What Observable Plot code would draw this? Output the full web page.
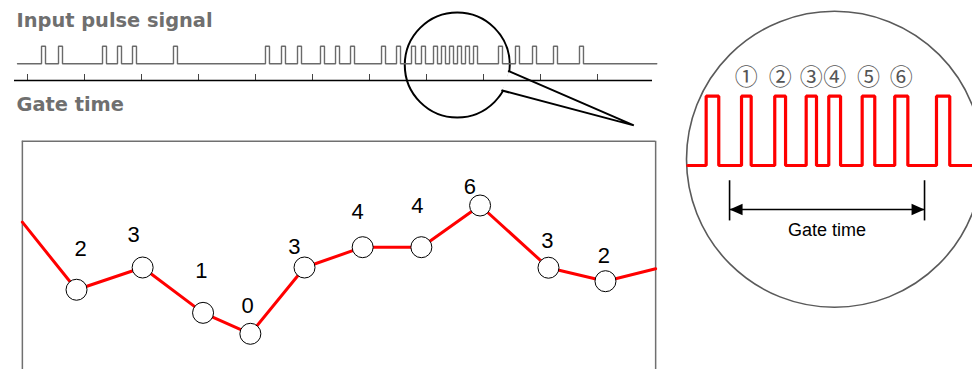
<!DOCTYPE html>
<html><head><meta charset="utf-8">
<script src="https://cdn.jsdelivr.net/npm/d3@7"></script>
<script src="https://cdn.jsdelivr.net/npm/@observablehq/plot@0.6"></script>
<style>
body{margin:0;background:#fff;}
#chart{position:relative;width:972px;height:369px;overflow:hidden;background:#fff;}
#chart svg{position:absolute;left:0;top:0;background:transparent;}
</style></head><body><div id="chart"></div>
<script>
// ---- time is measured in gate-time units (gate k spans k..k+1) ----
const gateTicks = [0, 1, 2, 3, 4, 5, 6, 7, 8, 9, 10];

// input pulse signal: rising-edge times and pulse width
const pulseRise = [0.246, 0.544, 1.316, 1.579, 1.842, 2.561, 4.175, 4.456, 4.737,
  5.140, 5.404, 5.667, 6.211, 6.474, 6.737, 6.912, 7.123, 7.263, 7.404, 7.544,
  7.684, 7.825, 8.263, 8.561, 8.860, 9.228, 9.684];
const pulseWidth = 0.07;
const signalSpan = [-0.175, 11.04];

// counted pulses per gate
const gateTime = [0.86, 2.02, 3.08, 3.91, 4.86, 5.88, 6.91, 7.94, 9.14, 10.14];
const gateLevel = [2.06, 3.10, 0.98, 0, 3.10, 4.05, 4.05, 6.0, 3.09, 2.46];
const gateCount = [2, 3, 1, 0, 3, 4, 4, 6, 3, 2];
const labelTime = [0.93, 1.86, 3.05, 3.86, 4.68, 5.79, 6.84, 7.76, 9.12, 10.11];
const labelLevel = [3.99, 4.60, 2.96, 1.29, 4.05, 5.69, 6.00, 6.86, 4.36, 3.66];
const edgeTime = [-0.09, 11.02];
const edgeLevel = [5.22, 3.04];
const frameTop = 9.0;
const frameBottom = -3;

// magnifier (small lens on the pulse train, callout pointer)
const lensCenter = {t: 7.54, level: -0.07};
const pointerTime = [8.444, 10.637, 8.328];
const pointerLevel = [-0.42, -3.5, -1.52];

// magnified view
const zoomRise = [6.756, 6.972, 7.175, 7.367, 7.505, 7.709, 7.908, 8.163];
const zoomFall = [6.833, 7.031, 7.241, 7.430, 7.577, 7.786, 7.988, 8.244];
const zoomSpan = [6.644, 8.45];
const zoomCenter = {t: 7.54, level: 0.09};
const circledLabels = ["①", "②", "③", "④", "⑤", "⑥"];
const gateArrow = [6.899, 8.090];
const gateArrowLevel = -0.635;
const gateBar = [-0.22, -0.80];
const gateLabelLevel = -0.94;

// ---------------------------------------------------------------
const W = 972, H = 369;
const baseStyle = {background: "transparent", fontFamily: "'Liberation Sans', Arial, sans-serif", overflow: "visible"};
const xMain = {domain: [0, 10], range: [27, 597], axis: null};

function train(rises, falls, span) {
  const pts = [{t: span[0], v: 0}];
  rises.forEach((r, i) => { pts.push({t: r, v: 0}, {t: r, v: 1}, {t: falls[i], v: 1}, {t: falls[i], v: 0}); });
  pts.push({t: span[1], v: 0});
  return pts;
}

const chart = document.getElementById("chart");

// Layer 1: count chart
const points = gateTime.map((t, i) => ({t, level: gateLevel[i], count: gateCount[i], lt: labelTime[i], ll: labelLevel[i]}));
const linePts = [{t: edgeTime[0], level: edgeLevel[0]}, ...points, {t: edgeTime[1], level: edgeLevel[1]}];
chart.append(Plot.plot({
  width: W, height: H, margin: 0, style: baseStyle,
  x: xMain, y: {domain: [0, 6], range: [333.3, 205], axis: null},
  marks: [
    Plot.ruleX(edgeTime, {x: d => d, y1: frameTop, y2: frameBottom, stroke: "#707070", strokeWidth: 1.5}),
    Plot.ruleY([frameTop], {y: d => d, x1: edgeTime[0], x2: edgeTime[1], stroke: "#707070", strokeWidth: 1.5}),
    Plot.line(linePts, {x: "t", y: "level", stroke: "#ff0000", strokeWidth: 3, strokeLinejoin: "round"}),
    Plot.dot(points, {x: "t", y: "level", r: 10.5, fill: "white", stroke: "black", strokeWidth: 1}),
    Plot.text(points, {x: "lt", y: "ll", text: d => String(d.count), fontSize: 22, fill: "black", lineAnchor: "middle"})
  ]
}));

// Layer 2: input pulse signal, titles, lens + pointer
const mainTrain = train(pulseRise, pulseRise.map(r => r + pulseWidth), signalSpan);
const pointer = pointerTime.map((t, i) => ({t, level: pointerLevel[i]}));
chart.append(Plot.plot({
  width: W, height: H, margin: 0, style: baseStyle,
  x: xMain, y: {domain: [0, 1], range: [63.3, 45.7], axis: null},
  marks: [
    Plot.dot([lensCenter], {x: "t", y: "level", r: 52.5, fill: "none", stroke: "black", strokeWidth: 2}),
    Plot.line(pointer, {x: "t", y: "level", fill: "white", stroke: "black", strokeWidth: 2, strokeLinejoin: "miter"}),
    Plot.line(mainTrain, {x: "t", y: "v", stroke: "#6a6a6a", strokeWidth: 1.4, strokeLinejoin: "miter", curve: "linear"}),
    Plot.text(["Input pulse signal"], {frameAnchor: "top-left", dx: 16, dy: 13.2, lineAnchor: "top", textAnchor: "start",
      fontFamily: "'DejaVu Sans', sans-serif", fontWeight: "bold", fontSize: 19.4, fill: "#6f6f6f"}),
    Plot.text(["Gate time"], {frameAnchor: "top-left", dx: 16, dy: 97, lineAnchor: "top", textAnchor: "start",
      fontFamily: "'DejaVu Sans', sans-serif", fontWeight: "bold", fontSize: 19.4, fill: "#6f6f6f"})
  ]
}));

// Layer 3: gate-time axis (line with ticks)
chart.append(Plot.plot({
  width: W, height: 81, marginTop: 74, marginRight: 320, marginBottom: 1, marginLeft: 14, style: baseStyle,
  x: xMain, y: {domain: [0, 1], range: [80, 74], axis: null},
  marks: [
    Plot.ruleX(gateTicks, {x: d => d, y1: 0, y2: 1, stroke: "#444", strokeWidth: 1}),
    Plot.ruleY([0], {stroke: "black", strokeWidth: 1.4})
  ]
}));

// Layer 4: magnified view
const zoomTrain = train(zoomRise, zoomFall, zoomSpan);
const circled = circledLabels.map((s, i) => ({s, t: (zoomRise[i + 1] + zoomFall[i + 1]) / 2}));
const triLeft = {draw(ctx, size) { const s = Math.sqrt(size / Math.PI); ctx.moveTo(0, 0); ctx.lineTo(2 * s, -0.9 * s); ctx.lineTo(2 * s, 0.9 * s); ctx.closePath(); }};
const triRight = {draw(ctx, size) { const s = Math.sqrt(size / Math.PI); ctx.moveTo(0, 0); ctx.lineTo(-2 * s, -0.9 * s); ctx.lineTo(-2 * s, 0.9 * s); ctx.closePath(); }};
chart.append(Plot.plot({
  width: W, height: H, margin: 0, style: baseStyle,
  x: {domain: [7.54, 8.54], range: [834, 997.7], axis: null},
  y: {domain: [0, 1], range: [165, 95.7], axis: null},
  marks: [
    Plot.dot([zoomCenter], {x: "t", y: "level", r: 148, fill: "none", stroke: "#5a5a5a", strokeWidth: 1.6}),
    Plot.line(zoomTrain, {x: "t", y: "v", stroke: "#ff0000", strokeWidth: 3.2, strokeLinejoin: "miter"}),
    Plot.text(circled, {x: "t", y: () => 1.27, text: "s", fontFamily: "'Noto Sans CJK JP', sans-serif", fontSize: 23, fill: "#555", lineAnchor: "middle"}),
    Plot.ruleX(gateArrow, {x: d => d, y1: gateBar[0], y2: gateBar[1], stroke: "black", strokeWidth: 1.6}),
    Plot.ruleY([gateArrowLevel], {y: d => d, x1: gateArrow[0], x2: gateArrow[1], stroke: "black", strokeWidth: 1.6}),
    Plot.dot([{t: gateArrow[0]}], {x: "t", y: () => gateArrowLevel, r: 6.5, symbol: triLeft, fill: "black", stroke: "none"}),
    Plot.dot([{t: gateArrow[1]}], {x: "t", y: () => gateArrowLevel, r: 6.5, symbol: triRight, fill: "black", stroke: "none"}),
    Plot.text(["Gate time"], {x: () => (gateArrow[0] + gateArrow[1]) / 2, y: () => gateLabelLevel, fontSize: 18, fill: "black", lineAnchor: "middle"})
  ]
}));
</script></body></html>
